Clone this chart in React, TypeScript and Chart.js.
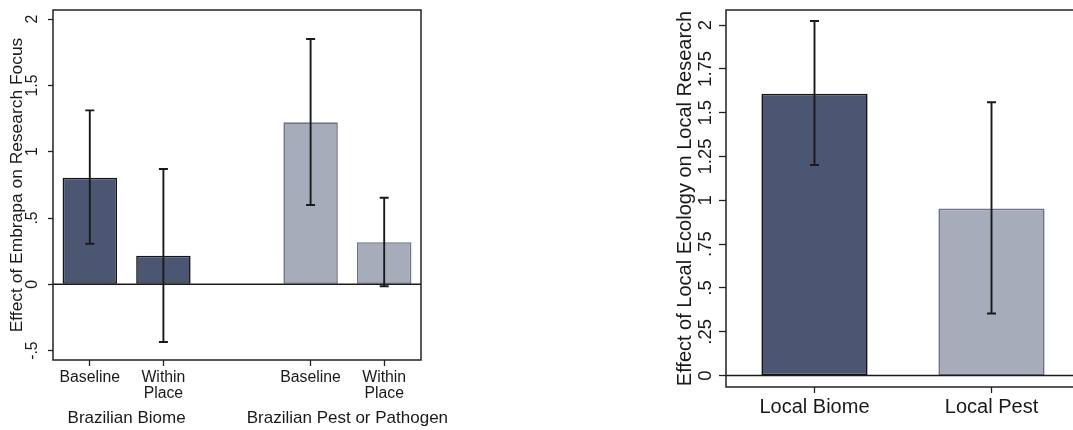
import React, { useEffect, useRef } from "react";
import { Chart, registerables } from "chart.js";

Chart.register(...registerables);

const FONT = "'Liberation Sans', Arial, Helvetica, sans-serif";
const DARK_FILL = "#4b5673";
const DARK_BORDER = "#151515";
const LIGHT_FILL = "#a7acbb";
const LIGHT_BORDER = "#6f7383";
const INK = "#1a1a1a";

// ---------- Left panel data ----------
const leftCategories: (string | string[])[] = [["Baseline"], ["Within", "Place"], [""], ["Baseline"], ["Within", "Place"]];
const leftValues: (number | null)[] = [0.804, 0.216, null, 1.222, 0.317];
const leftLower: (number | null)[] = [0.306, -0.435, null, 0.598, -0.015];
const leftUpper: (number | null)[] = [1.312, 0.87, null, 1.85, 0.653];
const leftShade = ["dark", "dark", "none", "light", "light"];
const leftGroupLabels = ["Brazilian Biome", "Brazilian Pest or Pathogen"];
const leftGroupMembers = [[0, 1], [3, 4]];
const leftYTicks = [-0.5, 0, 0.5, 1, 1.5, 2];
const leftYTickLabels = ["-.5", "0", ".5", "1", "1.5", "2"];
const leftYTitle = "Effect of Embrapa on Research Focus";

// ---------- Right panel data ----------
const rightCategories = ["Local Biome", "Local Pest"];
const rightValues = [1.608, 0.953];
const rightLower = [1.202, 0.354];
const rightUpper = [2.023, 1.56];
const rightShade = ["dark", "light"];
const rightYTicks = [0, 0.25, 0.5, 0.75, 1, 1.25, 1.5, 1.75, 2];
const rightYTickLabels = ["0", ".25", ".5", ".75", "1", "1.25", "1.5", "1.75", "2"];
const rightYTitle = "Effect of Local Ecology on Local Research";

const fillFor = (s: string) => (s === "dark" ? DARK_FILL : s === "light" ? LIGHT_FILL : "rgba(0,0,0,0)");
const borderFor = (s: string) => (s === "dark" ? DARK_BORDER : s === "light" ? LIGHT_BORDER : "rgba(0,0,0,0)");

function errorBarPlugin(lower: (number | null)[], upper: (number | null)[], capHalf: number, lw: number) {
  return {
    id: "errorbars",
    afterDatasetsDraw(chart: any) {
      const meta = chart.getDatasetMeta(0);
      const y = chart.scales.y;
      const ctx = chart.ctx;
      ctx.save();
      ctx.strokeStyle = INK;
      ctx.lineWidth = lw;
      meta.data.forEach((el: any, i: number) => {
        const lo = lower[i];
        const hi = upper[i];
        if (lo == null || hi == null) return;
        const x = el.x;
        const yl = y.getPixelForValue(lo);
        const yh = y.getPixelForValue(hi);
        ctx.beginPath();
        ctx.moveTo(x, yl);
        ctx.lineTo(x, yh);
        ctx.moveTo(x - capHalf, yl);
        ctx.lineTo(x + capHalf, yl);
        ctx.moveTo(x - capHalf, yh);
        ctx.lineTo(x + capHalf, yh);
        ctx.stroke();
      });
      ctx.restore();
    },
  };
}

const frameAndZeroPlugin = {
  id: "frameZero",
  afterDatasetsDraw(chart: any) {
    const { ctx, chartArea } = chart;
    const y = chart.scales.y;
    const y0 = y.getPixelForValue(0);
    ctx.save();
    ctx.strokeStyle = INK;
    ctx.lineWidth = 1.5;
    ctx.beginPath();
    ctx.moveTo(chartArea.left, y0);
    ctx.lineTo(chartArea.right, y0);
    ctx.stroke();
    ctx.strokeStyle = "#222";
    ctx.lineWidth = 1.5;
    ctx.strokeRect(chartArea.left, chartArea.top, chartArea.right - chartArea.left, chartArea.bottom - chartArea.top);
    ctx.restore();
  },
};

const groupLabelPlugin = {
  id: "groupLabels",
  afterDraw(chart: any) {
    const { ctx } = chart;
    const x = chart.scales.x;
    ctx.save();
    ctx.fillStyle = INK;
    ctx.font = `17px ${FONT}`;
    ctx.textAlign = "center";
    ctx.textBaseline = "alphabetic";
    leftGroupLabels.forEach((lab, g) => {
      const idx = leftGroupMembers[g];
      const cx = idx.reduce((s, i) => s + x.getPixelForTick(i), 0) / idx.length;
      ctx.fillText(lab, cx, 423);
    });
    ctx.restore();
  },
};

function makeOptions(cfg: {
  padRight: number;
  yWidth: number;
  xHeight: number;
  min: number;
  max: number;
  ticks: number[];
  tickLabels: string[];
  title: string;
  titleSize: number;
  titlePad: number;
  tickSize: number;
  tickPad: number;
  tickLen: number;
  xSize: number;
  xLine: number;
  xPad: number;
  xTickLen: number;
  hideTickIndex?: number;
}) {
  return {
    responsive: false,
    animation: false as const,
    events: [],
    layout: { padding: { left: 0, top: 10, right: cfg.padRight, bottom: 0 } },
    plugins: { legend: { display: false }, tooltip: { enabled: false }, title: { display: false } },
    scales: {
      x: {
        type: "category" as const,
        offset: true,
        grid: {
          offset: false,
          drawOnChartArea: false,
          drawTicks: true,
          tickLength: cfg.xTickLen,
          tickWidth: 1.3,
          color: "rgba(0,0,0,0)",
          tickColor: (c: any) => (c.index === cfg.hideTickIndex ? "rgba(0,0,0,0)" : "#222"),
        },
        border: { display: false },
        ticks: {
          color: INK,
          font: { family: FONT, size: cfg.xSize, lineHeight: cfg.xLine },
          padding: cfg.xPad,
          maxRotation: 0,
          minRotation: 0,
          autoSkip: false,
        },
        afterFit: (s: any) => {
          s.height = cfg.xHeight;
          s.paddingLeft = 0;
          s.paddingRight = 0;
        },
      },
      y: {
        type: "linear" as const,
        min: cfg.min,
        max: cfg.max,
        grid: {
          drawOnChartArea: false,
          drawTicks: true,
          tickLength: cfg.tickLen,
          tickWidth: 1.3,
          color: "rgba(0,0,0,0)",
          tickColor: "#222",
        },
        border: { display: false },
        afterBuildTicks: (s: any) => {
          s.ticks = cfg.ticks.map((v) => ({ value: v }));
        },
        ticks: {
          color: INK,
          font: { family: FONT, size: cfg.tickSize },
          padding: cfg.tickPad,
          minRotation: 90,
          maxRotation: 90,
          crossAlign: "center" as const,
          autoSkip: false,
          callback: (_v: any, i: number) => cfg.tickLabels[i],
        },
        title: {
          display: true,
          text: cfg.title,
          color: INK,
          font: { family: FONT, size: cfg.titleSize, lineHeight: 1.2 },
          padding: { top: cfg.titlePad, bottom: 0 },
        },
        afterFit: (s: any) => {
          s.width = cfg.yWidth;
          s.paddingTop = 0;
          s.paddingBottom = 0;
        },
      },
    },
  };
}

export default function App() {
  const leftRef = useRef<HTMLCanvasElement>(null);
  const rightRef = useRef<HTMLCanvasElement>(null);

  useEffect(() => {
    const left = new Chart(leftRef.current as HTMLCanvasElement, {
      type: "bar",
      data: {
        labels: leftCategories as any,
        datasets: [
          {
            data: leftValues as any,
            backgroundColor: leftShade.map(fillFor),
            borderColor: leftShade.map(borderFor),
            borderWidth: 1.6,
            borderSkipped: false,
            categoryPercentage: 1,
            barPercentage: 0.74,
          },
        ],
      },
      options: makeOptions({
        padRight: 39,
        yWidth: 53,
        xHeight: 70,
        min: -0.571,
        max: 2.069,
        ticks: leftYTicks,
        tickLabels: leftYTickLabels,
        title: leftYTitle,
        titleSize: 17.4,
        titlePad: 6.6,
        tickSize: 15.8,
        tickPad: 4.6,
        tickLen: 5,
        xSize: 15.8,
        xLine: 1.0,
        xPad: 3.5,
        xTickLen: 6,
        hideTickIndex: 2,
      }) as any,
      plugins: [frameAndZeroPlugin, errorBarPlugin(leftLower, leftUpper, 4.5, 1.9), groupLabelPlugin],
    });

    const right = new Chart(rightRef.current as HTMLCanvasElement, {
      type: "bar",
      data: {
        labels: rightCategories,
        datasets: [
          {
            data: rightValues,
            backgroundColor: rightShade.map(fillFor),
            borderColor: rightShade.map(borderFor),
            borderWidth: 1.6,
            borderSkipped: false,
            categoryPercentage: 1,
            barPercentage: 0.6,
          },
        ],
      },
      options: makeOptions({
        padRight: 10,
        yWidth: 86,
        xHeight: 430 - 387,
        min: -0.065,
        max: 2.086,
        ticks: rightYTicks,
        tickLabels: rightYTickLabels,
        title: rightYTitle,
        titleSize: 20,
        titlePad: 33,
        tickSize: 18.5,
        tickPad: -4.8,
        tickLen: 7,
        xSize: 20,
        xLine: 1.2,
        xPad: 2,
        xTickLen: 6,
      }) as any,
      plugins: [frameAndZeroPlugin, errorBarPlugin(rightLower, rightUpper, 4.5, 1.9)],
    });

    return () => {
      left.destroy();
      right.destroy();
    };
  }, []);

  return (
    <div
      style={{
        position: "fixed",
        left: 0,
        top: 0,
        width: 1073,
        height: 430,
        overflow: "hidden",
        background: "#fff",
      }}
    >
      <div style={{ position: "absolute", left: 0, top: 0, width: 460, height: 430 }}>
        <canvas ref={leftRef} width={460} height={430} style={{ width: 460, height: 430, display: "block" }} />
      </div>
      <div style={{ position: "absolute", left: 640, top: 0, width: 450, height: 430 }}>
        <canvas ref={rightRef} width={450} height={430} style={{ width: 450, height: 430, display: "block" }} />
      </div>
    </div>
  );
}
